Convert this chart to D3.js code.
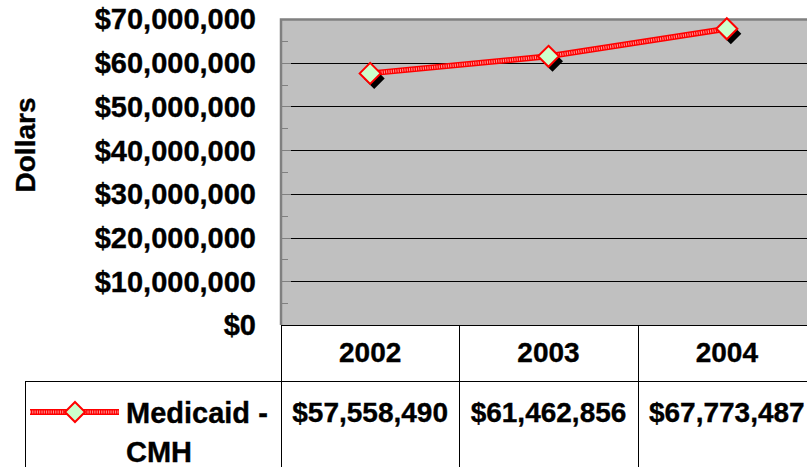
<!DOCTYPE html>
<html>
<head>
<meta charset="utf-8">
<script src="https://cdn.jsdelivr.net/npm/d3@7"></script>
<style>
  body { margin: 0; background: #fff; }
  svg { display: block; font-family: "Liberation Sans", Arial, sans-serif; font-weight: bold; }
  svg text { stroke: #000; stroke-width: 0.35px; }
</style>
</head>
<body>
<svg id="chart" width="807" height="467"></svg>
<script>
// data
const years = ['2002', '2003', '2004']
const medicaidCMH = [57558490, 61462856, 67773487]
const seriesName = ['Medicaid -', 'CMH']
const yTicks = [0, 10000000, 20000000, 30000000, 40000000, 50000000, 60000000, 70000000]

const svg = d3.select('#chart')
const W = 807, H = 467
const plot = { left: 281, top: 19, right: 816, bottom: 325 }

const x = d3.scaleBand().domain(years).range([plot.left, plot.right])
const y = d3.scaleLinear().domain([0, 70000000]).range([plot.bottom, plot.top])
const money = d => '$' + d3.format(',')(d)

// plot area
svg.append('rect')
  .attr('x', plot.left).attr('y', plot.top)
  .attr('width', plot.right - plot.left).attr('height', plot.bottom - plot.top)
  .style('fill', '#c0c0c0')

// gridlines
svg.selectAll('line.grid').data(yTicks.slice(1, -1)).enter().append('line')
  .attr('class', 'grid')
  .attr('x1', plot.left).attr('x2', plot.right)
  .attr('y1', d => Math.round(y(d)) + 0.5).attr('y2', d => Math.round(y(d)) + 0.5)
  .style('stroke', '#000').style('stroke-width', 1)

// minor ticks (inside, every 5M)
const minor = d3.range(5000000, 70000000, 10000000)
svg.selectAll('line.minor').data(minor).enter().append('line')
  .attr('x1', plot.left + 1).attr('x2', plot.left + 7)
  .attr('y1', d => Math.round(y(d)) + 0.5).attr('y2', d => Math.round(y(d)) + 0.5)
  .style('stroke', '#808080').style('stroke-width', 1)
svg.selectAll('line.major').data(yTicks.slice(1, -1)).enter().append('line')
  .attr('x1', plot.left + 1).attr('x2', plot.left + 10)
  .attr('y1', d => Math.round(y(d)) + 0.5).attr('y2', d => Math.round(y(d)) + 0.5)
  .style('stroke', '#808080').style('stroke-width', 1)

// plot border (left and top)
svg.append('path')
  .attr('d', `M${plot.left},${plot.bottom}V${plot.top + 0.5}H${plot.right}`)
  .style('fill', 'none').style('stroke', '#808080').style('stroke-width', 2.5)

// y axis labels
const yAxis = d3.axisLeft(y).tickValues(yTicks).tickFormat(money).tickSize(0).tickPadding(0)
const gy = svg.append('g').attr('transform', 'translate(256,0)').call(yAxis)
gy.select('.domain').remove()
gy.selectAll('text')
  .attr('dy', '0.34em')
  .style('font-family', '"Liberation Sans", Arial, sans-serif')
  .style('font-weight', 'bold').style('font-size', '29px').style('fill', '#000')

// axis title
svg.append('text')
  .attr('transform', 'translate(35,145) rotate(-90)')
  .attr('text-anchor', 'middle')
  .style('font-size', '28px')
  .text('Dollars')

// data table lines
const tbl = svg.append('g').style('stroke', '#000').style('stroke-width', 1)
tbl.append('line').attr('x1', plot.left).attr('x2', W).attr('y1', plot.bottom + 0.5).attr('y2', plot.bottom + 0.5)
tbl.append('line').attr('x1', 25).attr('x2', W).attr('y1', 381.5).attr('y2', 381.5)
tbl.append('line').attr('x1', 25.5).attr('x2', 25.5).attr('y1', 381).attr('y2', H)
tbl.selectAll('line.col').data(years).enter().append('line')
  .attr('x1', d => Math.round(x(d)) + 0.5).attr('x2', d => Math.round(x(d)) + 0.5)
  .attr('y1', plot.bottom).attr('y2', H)

// header years
svg.selectAll('text.year').data(years).enter().append('text')
  .attr('x', d => x(d) + x.bandwidth() / 2).attr('y', 362)
  .attr('text-anchor', 'middle').style('font-size', '28px')
  .text(d => d)

// values row
svg.selectAll('text.val').data(medicaidCMH).enter().append('text')
  .attr('x', (d, i) => x(years[i]) + x.bandwidth() / 2).attr('y', 422)
  .attr('text-anchor', 'middle').style('font-size', '28px')
  .text(d => money(d))

// line style helper: red band with white hatching
function hatchedLine (sel) {
  sel.append('path').attr('class', 'base')
    .style('fill', 'none').style('stroke', '#ff0000').style('stroke-width', 6)
  sel.append('path').attr('class', 'hatch')
    .style('fill', 'none').style('stroke', '#ffffff').style('stroke-width', 3)
    .style('stroke-dasharray', '1 1.3').style('opacity', 0.6)
}

function diamond (g, cx, cy, r, shadow) {
  const d = `M${cx},${cy - r}L${cx + r},${cy}L${cx},${cy + r}L${cx - r},${cy}Z`
  if (shadow) {
    g.append('path').attr('d', d).attr('transform', 'translate(4,5)').style('fill', '#000')
  }
  g.append('path').attr('d', d)
    .style('fill', '#ccffcc').style('stroke', '#ff0000').style('stroke-width', 2)
}

// series line
const lineGen = d3.line().x((d, i) => x(years[i]) + x.bandwidth() / 2).y(d => y(d))
const series = svg.append('g')
hatchedLine(series)
series.selectAll('path').attr('d', lineGen(medicaidCMH))
medicaidCMH.forEach((v, i) => diamond(series, x(years[i]) + x.bandwidth() / 2, y(v), 10.5, true))

// legend
const leg = svg.append('g')
hatchedLine(leg)
leg.selectAll('path').attr('d', 'M30,412H119')
diamond(leg, 75, 412, 10, false)
leg.append('text').attr('x', 126).attr('y', 423).style('font-size', '29px')
  .selectAll('tspan').data(seriesName).enter().append('tspan')
  .attr('x', 126).attr('dy', (d, i) => i === 0 ? 0 : 39)
  .text(d => d)
</script>
</body>
</html>
